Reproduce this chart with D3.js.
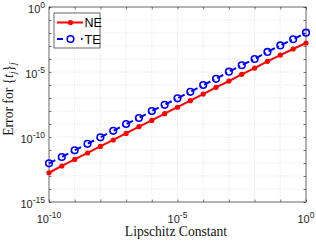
<!DOCTYPE html>
<html>
<head>
<meta charset="utf-8">
<script src="https://cdn.jsdelivr.net/npm/d3@7"></script>
<style>
body{margin:0;background:#fff;}
</style>
</head>
<body>
<div id="chart"></div>
<script>
// Lipschitz constant (x), half-decade steps
var lipschitz = [1e-10, 3.16e-10, 1e-9, 3.16e-9, 1e-8, 3.16e-8, 1e-7, 3.16e-7, 1e-6, 3.16e-6,
    1e-5, 3.16e-5, 1e-4, 3.16e-4, 1e-3, 3.16e-3, 1e-2, 3.16e-2, 1e-1, 3.16e-1, 1];
// error
var errNE = [1.78e-13, 5.9e-13, 1.9e-12, 5.9e-12, 1.9e-11, 5.9e-11, 1.9e-10, 6.2e-10, 1.9e-9, 6.2e-9,
    1.95e-8, 6.2e-8, 2.0e-7, 6.6e-7, 2.0e-6, 6.6e-6, 2.0e-5, 6.6e-5, 2.0e-4, 5.9e-4, 1.7e-3];
var errTE = [9.5e-13, 2.9e-12, 9.5e-12, 3.0e-11, 9.5e-11, 3.0e-10, 1.0e-9, 2.9e-9, 1.0e-8, 3.0e-8,
    9.5e-8, 3.0e-7, 1.0e-6, 3.0e-6, 1.05e-5, 3.3e-5, 1.0e-4, 3.5e-4, 1.1e-3, 3.3e-3, 1.05e-2];
var seriesNames = ['NE', 'TE'];
var xTickExp = [-10, -5, 0];
var yTickExp = [0, -5, -10, -15];

var width = 316, height = 241;
var margin = {left: 49, right: 10, top: 7, bottom: 39};
var w = width - margin.left - margin.right;
var h = height - margin.top - margin.bottom;

var svg = d3.select('#chart').append('svg')
    .attr('width', width)
    .attr('height', height);

var g = svg.append('g')
    .attr('transform', 'translate(' + margin.left + ',' + margin.top + ')');

var xScale = d3.scaleLog().domain([1e-10, 1]).range([0, w]);
var yScale = d3.scaleLog().domain([1e-15, 1]).range([h, 0]);

var xDecades = d3.range(-10, 1).map(function(e){ return Math.pow(10, e); });
var yDecades = d3.range(-15, 1).map(function(e){ return Math.pow(10, e); });

// grid
g.append('g').selectAll('line').data(xDecades.slice(1, -1)).enter().append('line')
    .attr('x1', function(d){ return xScale(d); })
    .attr('x2', function(d){ return xScale(d); })
    .attr('y1', 0).attr('y2', h)
    .attr('stroke', '#d4d4d4').attr('stroke-width', 0.6).attr('stroke-dasharray', '1,1.5');
g.append('g').selectAll('line').data(yDecades.slice(1, -1)).enter().append('line')
    .attr('y1', function(d){ return yScale(d); })
    .attr('y2', function(d){ return yScale(d); })
    .attr('x1', 0).attr('x2', w)
    .attr('stroke', '#d4d4d4').attr('stroke-width', 0.6).attr('stroke-dasharray', '1,1.5');

// axes (ticks inward, box on)
var axisColor = '#262626';
function styleAxis(sel){
    sel.select('.domain').remove();
    sel.selectAll('.tick line').attr('stroke', axisColor).attr('stroke-width', 0.6);
    sel.selectAll('.tick text').remove();
}
g.append('g').attr('transform', 'translate(0,' + h + ')')
    .call(d3.axisBottom(xScale).tickValues(xDecades).tickSize(-2.5).tickFormat('')).call(styleAxis);
g.append('g')
    .call(d3.axisTop(xScale).tickValues(xDecades).tickSize(-2.5).tickFormat('')).call(styleAxis);
g.append('g')
    .call(d3.axisLeft(yScale).tickValues(yDecades).tickSize(-2.5).tickFormat('')).call(styleAxis);
g.append('g').attr('transform', 'translate(' + w + ',0)')
    .call(d3.axisRight(yScale).tickValues(yDecades).tickSize(-2.5).tickFormat('')).call(styleAxis);

g.append('rect')
    .attr('x', 0).attr('y', 0).attr('width', w).attr('height', h)
    .attr('fill', 'none').attr('stroke', axisColor).attr('stroke-width', 0.7);

// tick labels with superscripts
function powLabel(sel, e){
    sel.append('tspan').text('10');
    sel.append('tspan').attr('dy', -5).style('font-size', '8.5px').text(e);
}
g.append('g').selectAll('text').data(xTickExp).enter().append('text')
    .attr('x', function(d){ return xScale(Math.pow(10, d)); })
    .attr('y', h + 21)
    .attr('text-anchor', 'middle')
    .style('font-family', 'Liberation Sans, Arial, sans-serif')
    .style('font-size', '11px')
    .attr('fill', axisColor)
    .each(function(d){ powLabel(d3.select(this), d); });
g.append('g').selectAll('text').data(yTickExp).enter().append('text')
    .attr('x', -4)
    .attr('y', function(d){ return yScale(Math.pow(10, d)) + 6; })
    .attr('text-anchor', 'end')
    .style('font-family', 'Liberation Sans, Arial, sans-serif')
    .style('font-size', '11px')
    .attr('fill', axisColor)
    .each(function(d){ powLabel(d3.select(this), d); });

// axis labels
svg.append('text')
    .attr('x', 176)
    .attr('y', 235.5)
    .attr('text-anchor', 'middle')
    .style('font-family', 'Liberation Serif, Times New Roman, serif')
    .style('font-size', '13.6px')
    .attr('fill', '#111')
    .text('Lipschitz Constant');

var yl = svg.append('text')
    .attr('transform', 'translate(12.5,99) rotate(-90)')
    .attr('text-anchor', 'middle')
    .style('font-family', 'Liberation Serif, Times New Roman, serif')
    .style('font-size', '13.6px')
    .attr('fill', '#111');
yl.append('tspan').text('Error for {');
yl.append('tspan').style('font-style', 'italic').text('t');
yl.append('tspan').attr('dy', 3).style('font-size', '9.5px').style('font-style', 'italic').text('j');
yl.append('tspan').attr('dy', -3).text('}');
yl.append('tspan').attr('dy', 3).style('font-size', '9.5px').style('font-style', 'italic').text('j');

// series
var line = d3.line()
    .x(function(d){ return xScale(d[0]); })
    .y(function(d){ return yScale(d[1]); });

var dataNE = lipschitz.map(function(x, i){ return [x, errNE[i]]; });
var dataTE = lipschitz.map(function(x, i){ return [x, errTE[i]]; });

g.append('path').datum(dataTE)
    .attr('d', line).attr('fill', 'none')
    .attr('stroke', '#0000ff').attr('stroke-width', 2)
    .attr('stroke-dasharray', '7,3,1.5,3');
g.append('g').selectAll('circle').data(dataTE).enter().append('circle')
    .attr('cx', function(d){ return xScale(d[0]); })
    .attr('cy', function(d){ return yScale(d[1]); })
    .attr('r', 3.3)
    .attr('fill', 'none').attr('stroke', '#0000ff').attr('stroke-width', 1.6);

g.append('path').datum(dataNE)
    .attr('d', line).attr('fill', 'none')
    .attr('stroke', '#ff0000').attr('stroke-width', 2);
g.append('g').selectAll('circle').data(dataNE).enter().append('circle')
    .attr('cx', function(d){ return xScale(d[0]); })
    .attr('cy', function(d){ return yScale(d[1]); })
    .attr('r', 2.6)
    .attr('fill', '#ff0000');

// legend
var lg = svg.append('g').attr('transform', 'translate(54,13)');
lg.append('rect').attr('x', 0).attr('y', 0).attr('width', 46).attr('height', 35)
    .attr('fill', '#fff').attr('stroke', axisColor).attr('stroke-width', 0.7);
var lgColors = ['#ff0000', '#0000ff'];
seriesNames.forEach(function(name, i){
    var yy = 9.5 + i * 16.5;
    var ln = lg.append('line').attr('x1', 3).attr('x2', 29).attr('y1', yy).attr('y2', yy)
        .attr('stroke', lgColors[i]).attr('stroke-width', 2);
    if (i == 1){
        ln.attr('stroke-dasharray', '6,18,1.5,10');
        lg.append('circle').attr('cx', 16.5).attr('cy', yy).attr('r', 3.3)
            .attr('fill', 'none').attr('stroke', lgColors[i]).attr('stroke-width', 1.6);
    } else {
        lg.append('circle').attr('cx', 16.5).attr('cy', yy).attr('r', 2.6).attr('fill', lgColors[i]);
    }
    lg.append('text').attr('x', 30.5).attr('y', yy + 4.5)
        .style('font-family', 'Liberation Sans, Arial, sans-serif')
        .style('font-size', '12.5px')
        .attr('fill', '#000')
        .text(name);
});
</script>
</body>
</html>
